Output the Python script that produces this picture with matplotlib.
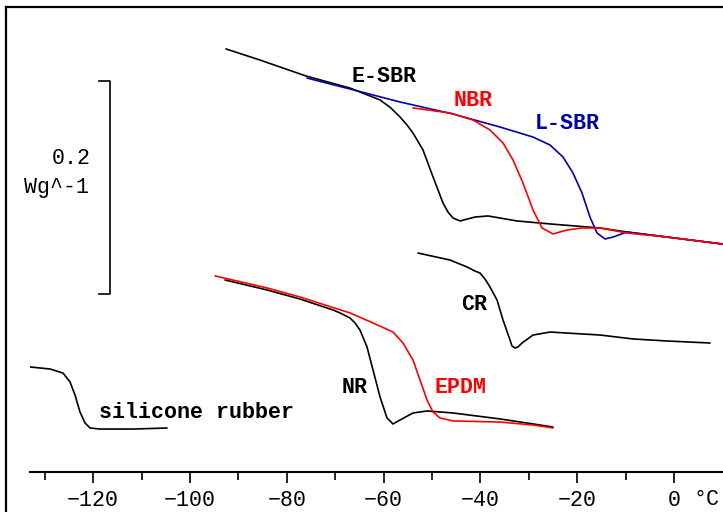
import matplotlib
matplotlib.use("Agg")
import matplotlib.pyplot as plt
from matplotlib.lines import Line2D

# temperature (°C) and heat flow (W/g, arbitrary offset)
esbr_t = [-92.56, -85.54, -76.03, -66.94, -60.74, -58.68, -56.61, -55.17, -53.93, -51.86,
          -49.79, -47.73, -46.69, -45.66, -44.21, -41.12, -38.43, -32.44, -25.62, -15.29,
          -9.71, -1.45, 10.12]
esbr_y = [0.3975, 0.3871, 0.3721, 0.3608, 0.3496, 0.3428, 0.3336, 0.3261, 0.3186, 0.3026,
          0.2773, 0.2529, 0.2443, 0.2388, 0.2360, 0.2397, 0.2407, 0.2360, 0.2332, 0.2294,
          0.2256, 0.2209, 0.2143]

lsbr_t = [-75.83, -66.94, -56.61, -45.66, -35.95, -29.13, -25.62, -22.93, -20.87, -19.01,
          -17.36, -15.91, -14.26, -12.60, -9.71, -1.45, 10.12]
lsbr_y = [0.3702, 0.3599, 0.3477, 0.3364, 0.3242, 0.3148, 0.3073, 0.2960, 0.2810, 0.2622,
          0.2397, 0.2247, 0.2191, 0.2209, 0.2256, 0.2209, 0.2143]

nbr_t = [-53.93, -46.28, -41.53, -38.02, -35.33, -33.26, -31.20, -29.13, -27.27, -25.00,
         -22.11, -19.01, -15.29, -9.71, -1.45, 10.12]
nbr_y = [0.3421, 0.3374, 0.3308, 0.3214, 0.3092, 0.2932, 0.2716, 0.2463, 0.2294, 0.2238,
         0.2275, 0.2294, 0.2294, 0.2247, 0.2209, 0.2143]

cr_t = [-52.89, -46.28, -42.77, -41.12, -40.08, -39.05, -38.02, -36.57, -35.33, -33.88,
        -33.47, -32.85, -32.23, -31.40, -29.13, -25.62, -15.29, -8.47, -1.45, 7.44]
cr_y = [0.2059, 0.1993, 0.1928, 0.1890, 0.1871, 0.1815, 0.1740, 0.1618, 0.1430, 0.1242,
        0.1186, 0.1167, 0.1177, 0.1214, 0.1289, 0.1317, 0.1289, 0.1252, 0.1233, 0.1214]

nr_t = [-92.77, -84.09, -77.27, -70.45, -69.00, -66.94, -65.91, -64.88, -63.43, -62.19,
        -60.74, -59.30, -58.06, -56.61, -53.93, -51.03, -45.66, -35.95, -29.13, -25.00]
nr_y = [0.1806, 0.1712, 0.1627, 0.1524, 0.1496, 0.1449, 0.1402, 0.1336, 0.1177, 0.0961,
        0.0707, 0.0510, 0.0454, 0.0491, 0.0557, 0.0576, 0.0557, 0.0501, 0.0454, 0.0425]

epdm_t = [-94.83, -84.09, -77.27, -66.94, -62.19, -58.06, -55.99, -53.93, -52.48, -51.03,
          -49.79, -48.35, -45.66, -35.95, -29.13, -25.00]
epdm_y = [0.1844, 0.1731, 0.1646, 0.1496, 0.1402, 0.1317, 0.1214, 0.1054, 0.0867, 0.0679,
          0.0566, 0.0510, 0.0482, 0.0472, 0.0444, 0.0416]

sil_t = [-133.06, -128.93, -126.24, -124.79, -123.76, -122.73, -121.69, -120.66, -118.60,
         -111.78, -104.75]
sil_y = [0.0989, 0.0970, 0.0932, 0.0848, 0.0726, 0.0566, 0.0463, 0.0416, 0.0406,
         0.0406, 0.0416]

major_ticks = [-120, -100, -80, -60, -40, -20, 0]
minor_ticks = [-130, -110, -90, -70, -50, -30, -10]

BLUE = "#0000aa"
RED = "#ff0000"
MONO = "Liberation Mono"
FS = 15.6

fig = plt.figure(figsize=(7.23, 5.12), dpi=100)
W, H = 723, 512
ax = fig.add_axes([30 / W, (H - 472.3) / H, 693 / W, (472.3 - 7) / H])
ax.set_xlim(-133.06, 10.12)
ax.set_ylim(0, 0.4369)

curves = [
    (esbr_t, esbr_y, "black"),
    (cr_t, cr_y, "black"),
    (nr_t, nr_y, "black"),
    (sil_t, sil_y, "black"),
    (epdm_t, epdm_y, RED),
    (lsbr_t, lsbr_y, BLUE),
    (nbr_t, nbr_y, RED),
]
for t, y, c in curves:
    ax.plot(t, y, color=c, lw=1.2, solid_joinstyle="round", solid_capstyle="round")

# curve labels
lab = dict(fontfamily=MONO, fontweight="bold", fontsize=FS, ha="center", va="center")
ax.text(-59.9, 0.3714, "E-SBR", color="black", **lab)
ax.text(-41.5, 0.3489, "NBR", color=RED, **lab)
ax.text(-22.0, 0.3271, "L-SBR", color=BLUE, **lab)
ax.text(-41.4, 0.1571, "CR", color="black", **lab)
ax.text(-66.0, 0.0792, "NR", color="black", **lab)
ax.text(-44.2, 0.0792, "EPDM", color=RED, **lab)
ax.text(-98.6, 0.0557, "silicone rubber", color="black", **lab)

# scale bar
ax.plot([-118.8, -116.5, -116.5, -118.8], [0.3677, 0.3677, 0.1674, 0.1674],
        color="black", lw=1.2)
ax.text(-120.45, 0.2942, "0.2", fontfamily=MONO, fontsize=FS, ha="right", va="center")
ax.text(-120.87, 0.2670, "Wg^-1", fontfamily=MONO, fontsize=FS, ha="right", va="center")

# axis
for s in ["left", "right", "top"]:
    ax.spines[s].set_visible(False)
ax.spines["bottom"].set_linewidth(1.5)
ax.set_yticks([])
ax.set_xticks(major_ticks)
ax.set_xticks(minor_ticks, minor=True)
ax.tick_params(axis="x", which="major", direction="out", length=8, width=1.2, pad=5)
ax.tick_params(axis="x", which="minor", direction="out", length=5.8, width=1.2)
for lbl in ax.get_xticklabels():
    lbl.set_fontfamily(MONO)
    lbl.set_fontsize(FS)
ax.text(4.1, -0.026, "°C", fontfamily=MONO, fontsize=FS, ha="left", va="center",
        clip_on=False)

# outer frame (left and top edges only visible)
fig.add_artist(Line2D([6 / W, 6 / W], [0, (H - 7) / H], color="black", lw=1.6))
fig.add_artist(Line2D([6 / W, 1], [(H - 7) / H, (H - 7) / H], color="black", lw=1.6))

fig.savefig("out.png", dpi=100)
